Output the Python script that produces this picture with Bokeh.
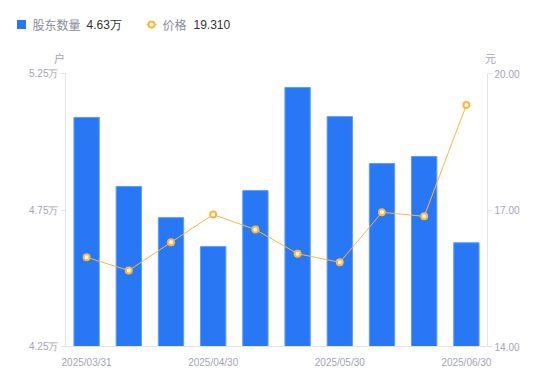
from bokeh.plotting import figure
from bokeh.layouts import column
from bokeh.models import Range1d, LinearAxis, FixedTicker, ColumnDataSource
from bokeh.core.properties import value
from bokeh.embed import file_html
from bokeh.resources import INLINE

dates = ["2025/03/31", "2025/04/10", "2025/04/20", "2025/04/30", "2025/05/09",
         "2025/05/20", "2025/05/30", "2025/06/10", "2025/06/20", "2025/06/30"]
holders = [5.089, 4.836, 4.722, 4.616, 4.821, 5.199, 5.092, 4.920, 4.946, 4.630]
price = [15.96, 15.67, 16.29, 16.90, 16.57, 16.04, 15.85, 16.95, 16.86, 19.31]
left_ticks = [4.25, 4.75, 5.25]
right_ticks = [14.0, 17.0, 20.0]
shown_idx = [0, 3, 6, 9]
series_names = ["股东数量", "价格"]
units = ["户", "元"]

FONT = "Liberation Sans"
CJK = "Noto Sans CJK SC"
GRAY = "#a3a5b3"
LEG_GRAY = "#8a8c99"
DARK = "#333333"
AXC = "#e3e4e8"
BLUE = "#2878f5"
ORANGE = "#ffb53a"

W = 545

# ---- header (legend + unit labels) ----
h = figure(width=W, height=66, output_backend="svg", toolbar_location=None,
           x_range=Range1d(0, W), y_range=Range1d(66, 0),
           min_border=0, min_border_left=0, min_border_right=0,
           min_border_top=0, min_border_bottom=0)
h.frame_align = False
h.axis.visible = False
h.grid.visible = False
h.outline_line_color = None

h.rect(x=[21], y=[24], width=9, height=9, fill_color=BLUE, line_color=None)
h.text(x=[32], y=[24], text=[series_names[0]], text_color=LEG_GRAY,
       text_font=value(CJK), text_font_size="12px", text_baseline="middle")
h.text(x=[86], y=[24], text=[f"{holders[-1]:.2f}万"], text_color=DARK,
       text_font=value(FONT), text_font_size="12px", text_baseline="middle")
h.line(x=[146, 156], y=[24, 24], line_color=ORANGE, line_width=1.5)
h.scatter(x=[151], y=[24], size=6, fill_color="white", line_color=ORANGE, line_width=2)
h.text(x=[162], y=[24], text=[series_names[1]], text_color=LEG_GRAY,
       text_font=value(CJK), text_font_size="12px", text_baseline="middle")
h.text(x=[193], y=[24], text=[f"{price[-1]:.3f}"], text_color=DARK,
       text_font=value(FONT), text_font_size="12px", text_baseline="middle")
h.text(x=[59, 490], y=[57, 57], text=units, text_color=GRAY,
       text_font=value(CJK), text_font_size="11px", text_baseline="middle",
       text_align="center")

# ---- main chart ----
xs = list(range(len(dates)))
src = ColumnDataSource(dict(x=xs, h=holders, p=price, d=dates))

p = figure(width=W, height=312, output_backend="svg", toolbar_location=None,
           x_range=Range1d(-0.5, len(dates) - 0.5), y_range=Range1d(4.25, 5.25),
           min_border_left=65, min_border_right=W - 487, min_border_top=7,
           min_border_bottom=32)
p.frame_align = False
p.outline_line_color = None
p.xgrid.visible = False
p.ygrid.visible = False
p.extra_y_ranges = {"price": Range1d(14.0, 20.0)}

p.vbar(x="x", top="h", bottom=4.25, width=0.6, source=src, fill_color=BLUE,
       line_color="#5b9bff", line_width=1)
p.line(x="x", y="p", source=src, y_range_name="price", line_color=ORANGE, line_width=1)
p.scatter(x="x", y="p", source=src, y_range_name="price", size=6, fill_color="white",
          line_color=ORANGE, line_width=2)

ya = p.yaxis[0]
ya.ticker = FixedTicker(ticks=left_ticks)
ya.major_label_overrides = {t: f"{t:.2f}万" for t in left_ticks}
ra = LinearAxis(y_range_name="price", ticker=FixedTicker(ticks=right_ticks))
ra.major_label_overrides = {t: f"{t:.2f}" for t in right_ticks}
p.add_layout(ra, "right")
for ax in (ya, ra):
    ax.axis_line_color = AXC
    ax.major_tick_line_color = AXC
    ax.major_tick_out = 5
    ax.major_tick_in = 0
    ax.minor_tick_line_color = None
    ax.major_label_text_color = GRAY
    ax.major_label_text_font = FONT
    ax.major_label_text_font_size = "10px"
    ax.major_label_standoff = 2

xa = p.xaxis[0]
xa.ticker = FixedTicker(ticks=shown_idx)
xa.major_label_overrides = {i: dates[i] for i in shown_idx}
xa.axis_line_color = AXC
xa.major_tick_line_color = None
xa.minor_tick_line_color = None
xa.major_label_text_color = GRAY
xa.major_label_text_font = FONT
xa.major_label_text_font_size = "10px"
xa.major_label_standoff = 4

open("out.html", "w").write(file_html(column(h, p, spacing=0), INLINE))
